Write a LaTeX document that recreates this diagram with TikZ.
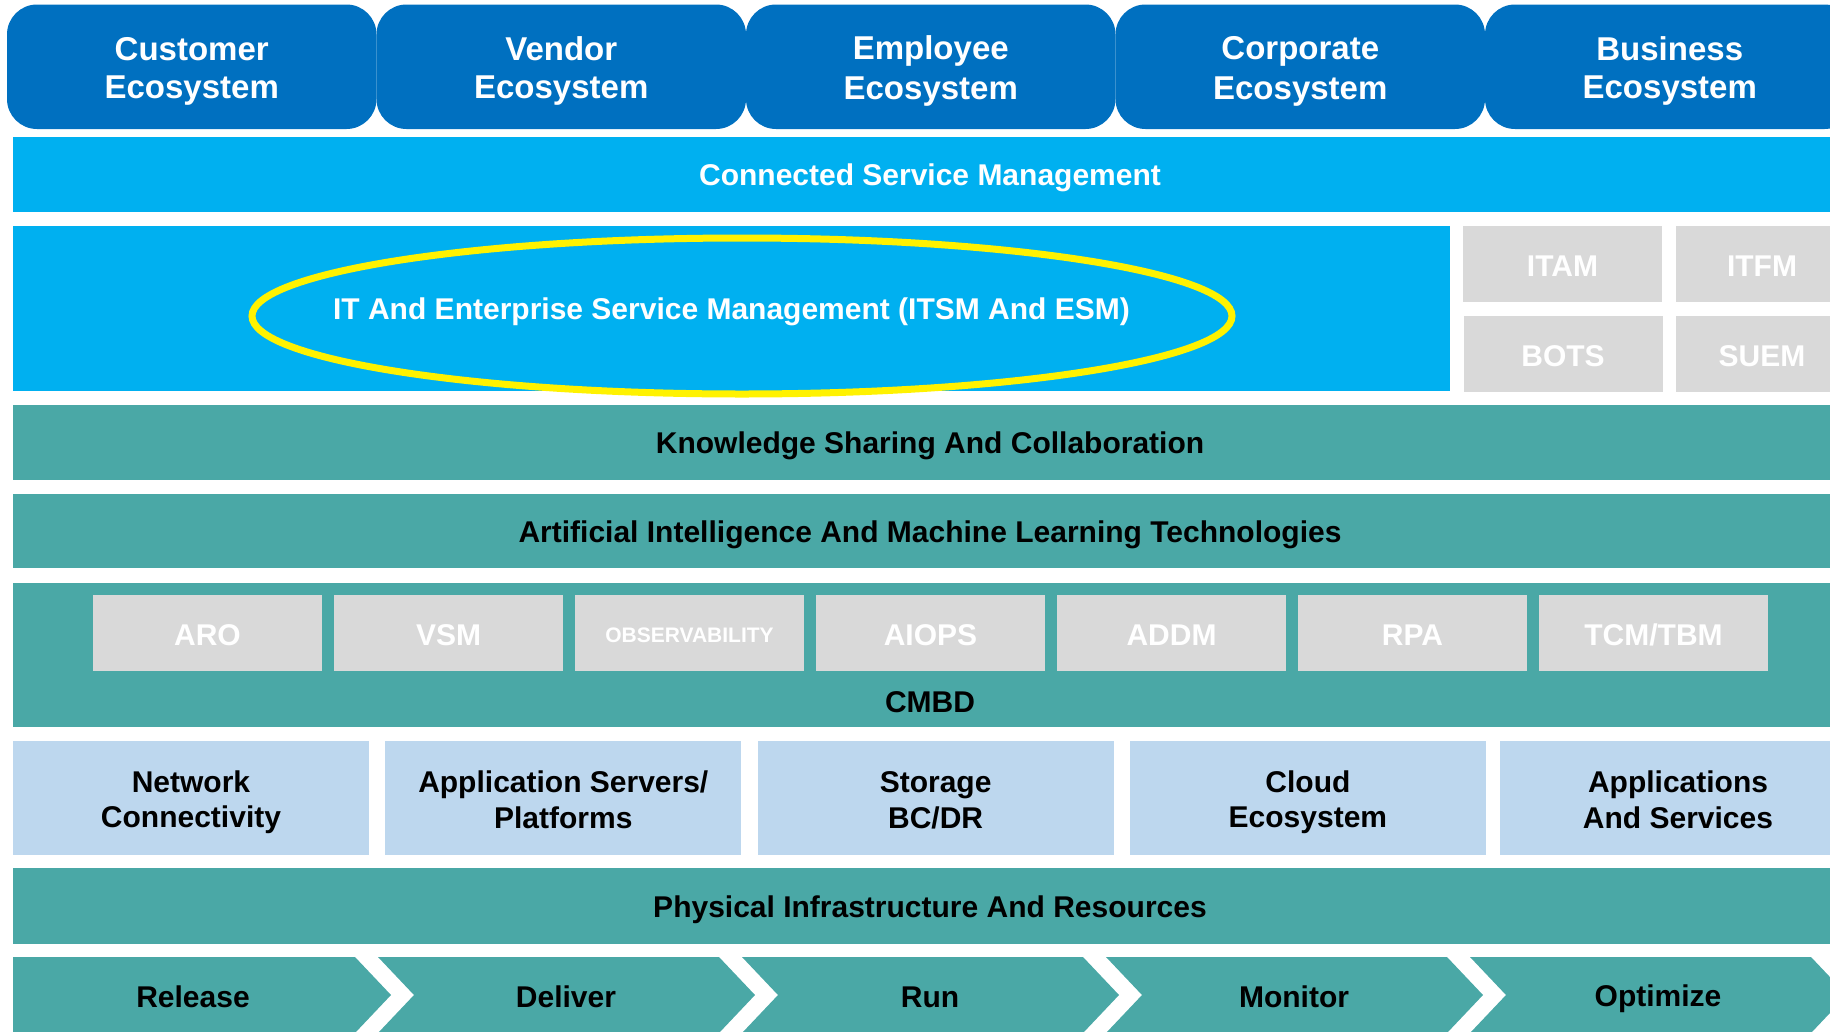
\documentclass[tikz,border=0pt]{standalone}
\usepackage{fontspec}
\setmainfont{Liberation Sans}
\usetikzlibrary{shapes.geometric, positioning, calc}
\definecolor{ecoblue}{HTML}{0070C0}
\definecolor{skyblue}{HTML}{00B0F0}
\definecolor{layerteal}{HTML}{4AA8A6}
\definecolor{toolgray}{HTML}{D9D9D9}
\definecolor{infrablue}{HTML}{BDD7EE}
\newcommand{\linestrut}{\rule[-0.14em]{0pt}{1.117em}}
\newcommand{\nextline}{\\\linestrut}

\tikzset{
    strutted/.style={execute at begin node=\linestrut, execute at end node=\linestrut},
    eco/.style={fill=ecoblue, rounded corners=30pt, minimum width=369.5pt, minimum height=124.5pt, text=white, align=center, font=\fontsize{33}{38.5}\selectfont\bfseries},
    layer/.style={strutted, fill=layerteal, minimum width=1834pt, font=\fontsize{30}{35}\selectfont\bfseries},
    tool/.style={strutted, fill=toolgray, text=white, minimum height=76pt, font=\fontsize{30}{35}\selectfont\bfseries},
    infra/.style={fill=infrablue, minimum width=356pt, minimum height=114pt, align=center, font=\fontsize{30}{35}\selectfont\bfseries},
    stage/.style={strutted, font=\fontsize{30}{35}\selectfont\bfseries}
}

\begin{document}
\begin{tikzpicture}[x=1pt, y=-1pt, every node/.style={inner sep=0pt, outer sep=0pt}]
\useasboundingbox (0,0) rectangle (1830,1031);
\clip (0,0) rectangle (1830,1031);
% ecosystems on top
\foreach \x/\name/\txt in {191.75/cust/Customer, 561.25/vend/Vendor, 930.75/empl/Employee, 1300.25/corp/Corporate, 1669.75/busi/Business} {
    \node[eco] (\name) at (\x,66.75) {\linestrut\txt\nextline Ecosystem};
}
% service management
\node[layer, fill=skyblue, text=white, minimum height=75pt] (csm) at (930,174.5) {Connected Service Management};
\node[layer, fill=skyblue, text=white, minimum width=1437pt, minimum height=165pt] (itsm) at (731.5,308.5) {IT And Enterprise Service Management (ITSM And ESM)};
\node[ellipse, draw=yellow, line width=7pt, minimum width=980pt, minimum height=156pt] (ring) at (742,316) {};
\foreach \x/\y/\w/\name/\txt in {1562.5/264/199pt/itam/ITAM, 1762/264/172pt/itfm/ITFM, 1563/354/199pt/bots/BOTS, 1762/354/172pt/suem/SUEM} {
    \node[tool, minimum width=\w] (\name) at (\x,\y) {\txt};
}
% shared layers
\node[layer, minimum height=75pt] (know) at (930,442.5) {Knowledge Sharing And Collaboration};
\node[layer, minimum height=74pt] (aiml) at (930,531) {Artificial Intelligence And Machine Learning Technologies};
\node[layer, minimum height=144pt] (cmbd) at (930,655) {};
\node[stage] (cmbdtext) at ([yshift=27pt]cmbd.south) {CMBD};
\foreach \i/\name/\txt in {0/aro/ARO, 1/vsm/VSM, 2/obs/{\raisebox{3pt}{\fontsize{21}{25}\selectfont OBSERVABILITY}}, 3/aiops/AIOPS, 4/addm/ADDM, 5/rpa/RPA, 6/tcm/{TCM/TBM}} {
    \node[tool, minimum width=229pt] (\name) at ({207.5+241*\i},633) {\txt};
}
% infrastructure
\foreach \x/\name/\txt in {191/net/{Network\nextline Connectivity}, 563.3/appsrv/{Application Servers/\nextline Platforms}, 935.6/stor/{Storage\nextline BC/DR}, 1307.9/cloud/{Cloud\nextline Ecosystem}, 1678/appsvc/{Applications\nextline And Services}} {
    \node[infra] (\name) at (\x,798) {\linestrut\txt};
}
\node[layer, minimum height=76pt] (phys) at (930,906) {Physical Infrastructure And Resources};
% lifecycle chevrons
\foreach \i/\tx/\name/\txt in {0/193/rel/Release, 1/566/del/Deliver, 2/930/run/Run, 3/1294/mon/Monitor, 4/1658/opt/Optimize} {
    \pgfmathsetmacro{\rx}{355+364*\i}
    \pgfmathsetmacro{\lx}{\i==0 ? 13 : \rx-341}
    \pgfmathsetmacro{\notch}{\i==0 ? 0 : 36}
    \fill[layerteal] (\lx,957) -- (\rx,957) -- ({\rx+36},995) -- (\rx,1033) -- (\lx,1033) -- ({\lx+\notch},995) -- cycle;
    \node[stage] (\name) at (\tx,995) {\txt};
}
\end{tikzpicture}
\end{document}
